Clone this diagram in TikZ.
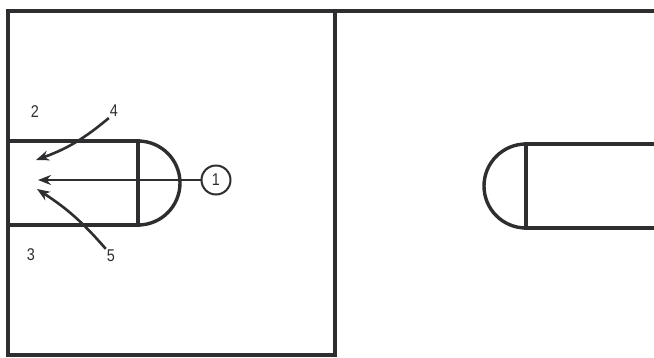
\documentclass[tikz,border=0pt]{standalone}
\usepackage{fontspec}
\setmainfont{Liberation Sans}[FakeStretch=0.85]
\usetikzlibrary{arrows.meta}
\definecolor{ink}{HTML}{2E2E30}
\tikzset{
  court/.style={ink, line width=3.4pt},
  move/.style={ink, line width=2.6pt, -{Stealth[length=13pt,width=10pt]}},
  player/.style={font=\fontsize{17}{17}\selectfont, text=ink, inner sep=1pt},
  ballhandler/.style={player, draw=ink, circle, line width=2pt, minimum size=29pt, inner sep=0pt}
}
\begin{document}
\begin{tikzpicture}[x=1pt, y=-1pt, >=stealth]
  \useasboundingbox (0,0) rectangle (654,357);

  % 场地边线
  \draw[court] (654,11) -- (8,11) -- (8,355) -- (335,355);
  \draw[court] (335,11) -- (335,357);

  % 左侧罚球区
  \draw[court] (8,141) -- (138,141) -- (138,225) -- (8,225);
  \draw[court] (138,141) arc[start angle=90, end angle=-90, radius=42pt];

  % 右侧罚球区
  \draw[court] (654,144) -- (526,144) -- (526,228) -- (654,228);
  \draw[court] (526,144) arc[start angle=90, end angle=270, radius=42pt];

  % 球员位置
  \node[ballhandler] (p1) at (216,180) {1};
  \node[player] (p2) at (35,112) {2};
  \node[player] (p3) at (31,255) {3};
  \node[player] (p4) at (114,111) {4};
  \node[player] (p5) at (111,256) {5};

  % 箭头终点
  \coordinate (t1) at (38,180);
  \coordinate (t4) at (36,160);
  \coordinate (t5) at (37,189);

  % 移动路线
  \draw[move] (p1.west) -- (t1);
  \draw[move] (p4.south west) to[bend left=10] (t4);
  \draw[move] (p5.north west) to[bend right=8] (t5);
\end{tikzpicture}
\end{document}
